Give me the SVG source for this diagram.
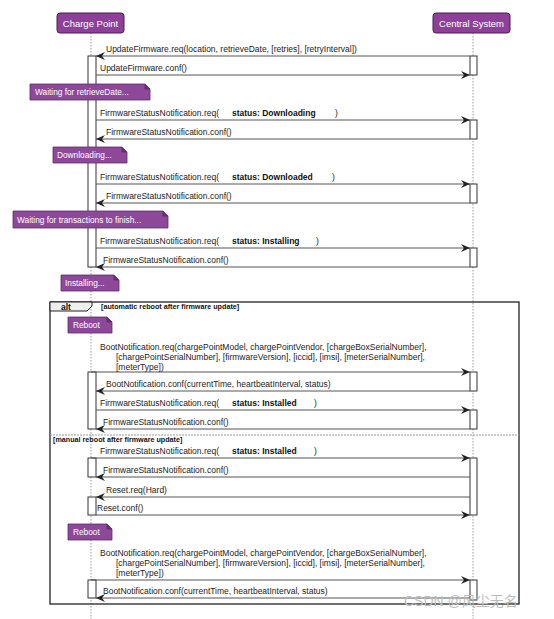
<svg xmlns="http://www.w3.org/2000/svg" width="554" height="619" viewBox="0 0 554 619">
<style>
text{font-family:"Liberation Sans",Arial,sans-serif;}
.m{font-size:8.5px;fill:#222;}
.b{font-size:8.5px;font-weight:bold;fill:#111;}
.s{font-size:7.2px;font-weight:bold;fill:#111;}
.hd{fill:#8e3f98;stroke:#4a1f50;stroke-width:1;}
.ht{font-size:9.5px;fill:#fff;}
.note{fill:#8d4899;stroke:#5e2d67;stroke-width:0.8;}
.nt{font-size:8.3px;fill:#fff;}
.life{stroke:#999;stroke-width:1;stroke-dasharray:1.5,1.5;}
.act{fill:#fff;stroke:#333;stroke-width:1;}
.msg{stroke:#555;stroke-width:1;fill:none;}
</style>
<defs>
<marker id="ar" markerWidth="10" markerHeight="8" refX="9" refY="4" orient="auto" markerUnits="userSpaceOnUse">
<path d="M0,0 L9,4 L0,8 L3,4 z" fill="#222"/>
</marker>
</defs>
<rect width="554" height="619" fill="#fff"/>

<g id="lifelines">
<line class="life" x1="91" y1="33" x2="91" y2="619"/>
<line class="life" x1="473" y1="33" x2="473" y2="619"/>
</g>

<g id="charge-point">
<rect class="hd" x="57" y="13" width="67" height="20" rx="3"/>
<text class="ht" x="90.5" y="26.5" text-anchor="middle">Charge Point</text>
</g>
<g id="central-system">
<rect class="hd" x="433" y="13" width="77" height="20" rx="3"/>
<text class="ht" x="471.5" y="26.5" text-anchor="middle">Central System</text>
</g>

<g id="alt-frame">
<rect x="50" y="302" width="469" height="302" fill="none" stroke="#222" stroke-width="1.3"/>
<path d="M50,302 L92,302 L92,306 L87,311 L50,311 z" fill="#eee" stroke="#222" stroke-width="1"/>
<text class="b" x="61" y="309.5">alt</text>
<text class="s" x="101" y="309">[automatic reboot after firmware update]</text>
<line x1="50" y1="435" x2="519" y2="435" stroke="#999" stroke-width="1" stroke-dasharray="2,1"/>
<text class="s" x="53" y="442">[manual reboot after firmware update]</text>
</g>

<g id="activations">
<rect class="act" x="88" y="56" width="8" height="211"/>
<rect class="act" x="470" y="56" width="7" height="19"/>
<rect class="act" x="470" y="120" width="7" height="19"/>
<rect class="act" x="470" y="184" width="7" height="19"/>
<rect class="act" x="470" y="248" width="7" height="19"/>
<rect class="act" x="88" y="372" width="8" height="57"/>
<rect class="act" x="470" y="372" width="7" height="19"/>
<rect class="act" x="470" y="410" width="7" height="19"/>
<rect class="act" x="470" y="458" width="7" height="57"/>
<rect class="act" x="88" y="458" width="8" height="19"/>
<rect class="act" x="88" y="497" width="8" height="18"/>
<rect class="act" x="88" y="580" width="8" height="18"/>
<rect class="act" x="470" y="580" width="7" height="20"/>
</g>

<g id="notes">
<g id="note-retrieve"><path class="note" d="M30,84 L145,84 L150,89 L150,100 L30,100 z"/><path d="M145,84 L145,89 L150,89" fill="#6a2f75" stroke="#5e2d67" stroke-width="0.8"/><text class="nt" x="35" y="95">Waiting for retrieveDate...</text></g>
<g id="note-downloading"><path class="note" d="M53,147 L122,147 L127,152 L127,163 L53,163 z"/><path d="M122,147 L122,152 L127,152" fill="#6a2f75" stroke="#5e2d67" stroke-width="0.8"/><text class="nt" x="57" y="158">Downloading...</text></g>
<g id="note-waiting"><path class="note" d="M13,211 L163,211 L168,216 L168,228 L13,228 z"/><path d="M163,211 L163,216 L168,216" fill="#6a2f75" stroke="#5e2d67" stroke-width="0.8"/><text class="nt" x="17" y="222.5">Waiting for transactions to finish...</text></g>
<g id="note-installing"><path class="note" d="M61,275 L114,275 L119,280 L119,291 L61,291 z"/><path d="M114,275 L114,280 L119,280" fill="#6a2f75" stroke="#5e2d67" stroke-width="0.8"/><text class="nt" x="65" y="286">Installing...</text></g>
<g id="note-reboot-1"><path class="note" d="M68,317 L107,317 L112,322 L112,333 L68,333 z"/><path d="M107,317 L107,322 L112,322" fill="#6a2f75" stroke="#5e2d67" stroke-width="0.8"/><text class="nt" x="73" y="328">Reboot</text></g>
<g id="note-reboot-2"><path class="note" d="M68,524 L107,524 L112,529 L112,540 L68,540 z"/><path d="M107,524 L107,529 L112,529" fill="#6a2f75" stroke="#5e2d67" stroke-width="0.8"/><text class="nt" x="73" y="535">Reboot</text></g>
</g>

<g id="connectors">
<line class="msg" x1="470" y1="56" x2="96" y2="56" marker-end="url(#ar)"/>
<line class="msg" x1="96" y1="75" x2="470" y2="75" marker-end="url(#ar)"/>
<line class="msg" x1="96" y1="120" x2="470" y2="120" marker-end="url(#ar)"/>
<line class="msg" x1="470" y1="139" x2="96" y2="139" marker-end="url(#ar)"/>
<line class="msg" x1="96" y1="184" x2="470" y2="184" marker-end="url(#ar)"/>
<line class="msg" x1="470" y1="203" x2="96" y2="203" marker-end="url(#ar)"/>
<line class="msg" x1="96" y1="248" x2="470" y2="248" marker-end="url(#ar)"/>
<line class="msg" x1="470" y1="267" x2="96" y2="267" marker-end="url(#ar)"/>
<line class="msg" x1="91" y1="372" x2="470" y2="372" marker-end="url(#ar)"/>
<line class="msg" x1="470" y1="391" x2="96" y2="391" marker-end="url(#ar)"/>
<line class="msg" x1="96" y1="410" x2="470" y2="410" marker-end="url(#ar)"/>
<line class="msg" x1="470" y1="429" x2="96" y2="429" marker-end="url(#ar)"/>
<line class="msg" x1="91" y1="458" x2="470" y2="458" marker-end="url(#ar)"/>
<line class="msg" x1="470" y1="477" x2="96" y2="477" marker-end="url(#ar)"/>
<line class="msg" x1="470" y1="497" x2="96" y2="497" marker-end="url(#ar)"/>
<line class="msg" x1="96" y1="515" x2="470" y2="515" marker-end="url(#ar)"/>
<line class="msg" x1="91" y1="580" x2="470" y2="580" marker-end="url(#ar)"/>
<line class="msg" x1="470" y1="598" x2="96" y2="598" marker-end="url(#ar)"/>
</g>

<g id="labels">
<text class="m" x="106" y="52">UpdateFirmware.req(location, retrieveDate, [retries], [retryInterval])</text>
<text class="m" x="100" y="71">UpdateFirmware.conf()</text>
<text class="m" x="100" y="116">FirmwareStatusNotification.req(</text><text class="b" x="232" y="116">status: Downloading</text><text class="m" x="335" y="116">)</text>
<text class="m" x="106" y="135">FirmwareStatusNotification.conf()</text>
<text class="m" x="100" y="180">FirmwareStatusNotification.req(</text><text class="b" x="232" y="180">status: Downloaded</text><text class="m" x="332" y="180">)</text>
<text class="m" x="106" y="199">FirmwareStatusNotification.conf()</text>
<text class="m" x="100" y="244">FirmwareStatusNotification.req(</text><text class="b" x="232" y="244">status: Installing</text><text class="m" x="316" y="244">)</text>
<text class="m" x="103" y="263">FirmwareStatusNotification.conf()</text>
<text class="m" x="100" y="350">BootNotification.req(chargePointModel, chargePointVendor, [chargeBoxSerialNumber],</text>
<text class="m" x="116" y="360">[chargePointSerialNumber], [firmwareVersion], [iccid], [imsi], [meterSerialNumber],</text>
<text class="m" x="116" y="370">[meterType])</text>
<text class="m" x="106" y="387">BootNotification.conf(currentTime, heartbeatInterval, status)</text>
<text class="m" x="100" y="406">FirmwareStatusNotification.req(</text><text class="b" x="232" y="406">status: Installed</text><text class="m" x="314" y="406">)</text>
<text class="m" x="103" y="425">FirmwareStatusNotification.conf()</text>
<text class="m" x="100" y="454">FirmwareStatusNotification.req(</text><text class="b" x="232" y="454">status: Installed</text><text class="m" x="314" y="454">)</text>
<text class="m" x="103" y="473">FirmwareStatusNotification.conf()</text>
<text class="m" x="106" y="493">Reset.req(Hard)</text>
<text class="m" x="97" y="511">Reset.conf()</text>
<text class="m" x="100" y="556">BootNotification.req(chargePointModel, chargePointVendor, [chargeBoxSerialNumber],</text>
<text class="m" x="116" y="566">[chargePointSerialNumber], [firmwareVersion], [iccid], [imsi], [meterSerialNumber],</text>
<text class="m" x="116" y="576">[meterType])</text>
<text class="m" x="103" y="594">BootNotification.conf(currentTime, heartbeatInterval, status)</text>
</g>

<text x="404" y="606" font-size="14" fill="#bdbdbd" style="font-family:'Liberation Sans','Noto Sans CJK SC',sans-serif">CSDN @风尘无名</text>
</svg>
